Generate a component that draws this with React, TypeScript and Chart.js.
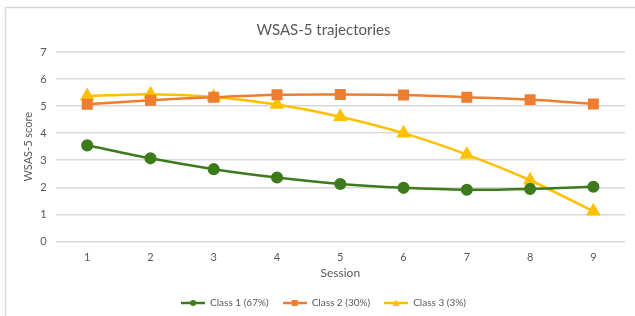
import React, { useEffect, useRef } from "react";
import { Chart, registerables } from "chart.js";

Chart.register(...registerables);

const sessions = ["1", "2", "3", "4", "5", "6", "7", "8", "9"];
const class1 = [3.55, 3.07, 2.67, 2.36, 2.12, 1.98, 1.91, 1.94, 2.02];
const class2 = [5.07, 5.22, 5.33, 5.42, 5.43, 5.41, 5.33, 5.24, 5.08];
const class3 = [5.37, 5.44, 5.34, 5.06, 4.61, 4.0, 3.21, 2.26, 1.11];
const seriesNames = ["Class 1 (67%)", "Class 2 (30%)", "Class 3 (3%)"];
const yTicks = [0, 1, 2, 3, 4, 5, 6, 7];

const GREEN = "#3d7a1c";
const ORANGE = "#ed7d31";
const YELLOW = "#ffc000";
const TEXT = "#595959";
const FONT = "Lato, 'Open Sans', sans-serif";

function legendIcon(color: string, style: string): HTMLCanvasElement {
  const c = document.createElement("canvas");
  c.width = 24;
  c.height = 10;
  const ctx = c.getContext("2d")!;
  ctx.strokeStyle = color;
  ctx.fillStyle = color;
  ctx.lineWidth = 2.5;
  ctx.beginPath();
  ctx.moveTo(0, 5);
  ctx.lineTo(24, 5);
  ctx.stroke();
  ctx.beginPath();
  if (style === "circle") {
    ctx.arc(12, 5, 3, 0, Math.PI * 2);
  } else if (style === "rect") {
    ctx.rect(9, 2, 6, 6);
  } else {
    ctx.moveTo(12, 1.5);
    ctx.lineTo(15.5, 8);
    ctx.lineTo(8.5, 8);
    ctx.closePath();
  }
  ctx.fill();
  return c;
}

const framePlugin = {
  id: "frame",
  beforeDraw(chart: any) {
    const ctx = chart.ctx;
    ctx.save();
    ctx.fillStyle = "#ffffff";
    ctx.fillRect(0, 0, chart.width, chart.height);
    ctx.strokeStyle = "#d9d9d9";
    ctx.lineWidth = 1.5;
    ctx.strokeRect(5.5, 7.5, chart.width + 20, chart.height + 20);
    ctx.restore();
  },
};

export default function App() {
  const ref = useRef<HTMLCanvasElement>(null);
  useEffect(() => {
    const icons = [
      legendIcon(GREEN, "circle"),
      legendIcon(ORANGE, "rect"),
      legendIcon(YELLOW, "triangle"),
    ];
    const chart = new Chart(ref.current!, {
      type: "line",
      data: {
        labels: sessions,
        datasets: [
          {
            label: seriesNames[0],
            data: class1,
            borderColor: GREEN,
            backgroundColor: GREEN,
            pointStyle: "circle",
            pointRadius: 4.8,
            borderWidth: 2.5,
            tension: 0.3,
          },
          {
            label: seriesNames[1],
            data: class2,
            borderColor: ORANGE,
            backgroundColor: ORANGE,
            pointStyle: "rect",
            pointRadius: 6,
            borderWidth: 2.5,
            tension: 0.3,
          },
          {
            label: seriesNames[2],
            data: class3,
            borderColor: YELLOW,
            backgroundColor: YELLOW,
            pointStyle: "triangle",
            pointRadius: 6,
            borderWidth: 2.5,
            tension: 0.3,
          },
        ],
      },
      options: {
        animation: false,
        responsive: false,
        layout: { padding: { left: 22, right: 10, top: 15, bottom: -2 } },
        plugins: {
          title: {
            display: true,
            text: "WSAS-5 trajectories",
            color: TEXT,
            font: { family: FONT, size: 15, weight: "normal" },
            padding: { top: 6, bottom: 13 },
          },
          legend: {
            position: "bottom",
            labels: {
              color: TEXT,
              font: { family: FONT, size: 10 },
              usePointStyle: true,
              pointStyleWidth: 24,
              padding: 14,
              generateLabels: (chart: any) =>
                chart.data.datasets.map((ds: any, i: number) => ({
                  text: ds.label,
                  pointStyle: icons[i],
                  fillStyle: ds.borderColor,
                  strokeStyle: ds.borderColor,
                  lineWidth: 0,
                  fontColor: TEXT,
                  datasetIndex: i,
                  hidden: false,
                })),
            },
          },
          tooltip: { enabled: false },
        },
        scales: {
          x: {
            offset: true,
            grid: { display: false },
            border: { display: false },
            ticks: { color: TEXT, font: { family: FONT, size: 11 }, padding: 1 },
            title: {
              display: true,
              text: "Session",
              color: TEXT,
              font: { family: FONT, size: 12 },
              padding: { top: 1, bottom: 4 },
            },
          },
          y: {
            min: 0,
            max: 7,
            afterBuildTicks: (axis: any) => {
              axis.ticks = yTicks.map((v) => ({ value: v }));
            },
            grid: { color: "#d9d9d9", lineWidth: 1.5, drawTicks: false },
            border: { display: false },
            ticks: { color: TEXT, font: { family: FONT, size: 11 }, padding: 9 },
            title: {
              display: true,
              text: "WSAS-5 score",
              color: TEXT,
              font: { family: FONT, size: 11 },
              padding: { top: 0, bottom: -4 },
            },
          },
        },
      },
      plugins: [framePlugin],
    });
    return () => chart.destroy();
  }, []);
  return (
    <div style={{ position: "absolute", left: 0, top: 0, width: 635, height: 316 }}>
      <canvas ref={ref} width={635} height={316} />
    </div>
  );
}
